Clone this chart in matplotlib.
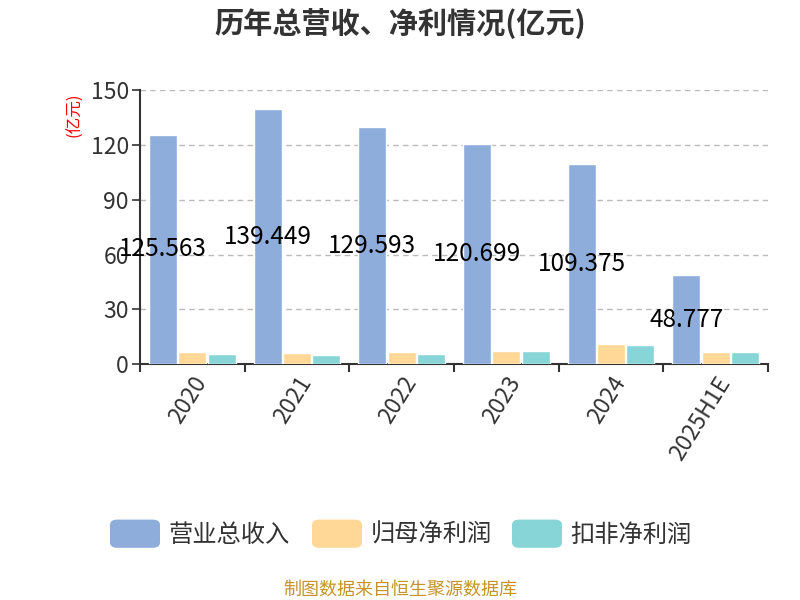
import matplotlib
matplotlib.use("Agg")
import matplotlib.pyplot as plt
import numpy as np
from matplotlib.patches import FancyBboxPatch

plt.rcParams['font.family'] = ['Noto Sans CJK SC', 'DejaVu Sans']

# 数据
years = ['2020', '2021', '2022', '2023', '2024', '2025H1E']
revenue = [125.563, 139.449, 129.593, 120.699, 109.375, 48.777]
net_profit = [6.7, 5.9, 6.5, 7.0, 10.8, 6.8]
deducted_profit = [5.4, 5.2, 5.7, 7.0, 10.7, 6.5]
series_names = ['营业总收入', '归母净利润', '扣非净利润']
colors = ['#8EADDB', '#FFD897', '#88D5D8']
yticks = [0, 30, 60, 90, 120, 150]

fig = plt.figure(figsize=(8, 6), dpi=100)
ax = fig.add_axes([0.175, 0.393, 0.785, 0.457])

x = np.arange(len(years))
w = 0.27
for i, vals in enumerate([revenue, net_profit, deducted_profit]):
    ax.bar(x + (i - 1) * (w + 0.01), vals, width=w, color=colors[i],
           edgecolor='white', linewidth=1, zorder=3)

# 数值标签（营业总收入柱中部）
for xi, v in zip(x, revenue):
    ax.text(xi - (w + 0.01), v / 2, f'{v:.3f}', ha='center', va='center',
            fontsize=17.5, color='black', zorder=5)

ax.set_xlim(-0.5, len(years) - 0.5)
ax.set_ylim(0, 150)
ax.set_yticks(yticks)
ax.set_yticklabels([str(t) for t in yticks], fontsize=16.5, color='#333333')
ax.yaxis.grid(True, linestyle=(0, (4, 3)), color='#bbbbbb', linewidth=1, zorder=0)

ax.set_xticks(np.arange(len(years) + 1) - 0.5, minor=False)
ax.set_xticklabels([''] * (len(years) + 1))
ax.set_xticks(x, minor=True)
ax.set_xticklabels(years, minor=True, rotation=58, ha='right',
                   rotation_mode='anchor', fontsize=16.5, color='#333333')
ax.tick_params(axis='x', which='minor', length=0, pad=6)
ax.tick_params(axis='x', which='major', length=6, width=1.5, color='#333333', direction='out')
ax.tick_params(axis='y', length=6, width=1.2, color='#333333', pad=2)

for s in ['top', 'right']:
    ax.spines[s].set_visible(False)
ax.spines['left'].set_color('#333333')
ax.spines['left'].set_linewidth(1.5)
ax.spines['bottom'].set_color('#333333')
ax.spines['bottom'].set_linewidth(1.5)

fig.text(0.094, 0.808, '(亿元)', rotation=90, color='red', fontsize=12,
         ha='center', va='center')

fig.text(0.5, 0.962, '历年总营收、净利情况(亿元)', ha='center', va='center',
         fontsize=21, fontweight='bold', color='#333333')

# 图例
legend_x = [0.1375, 0.39, 0.64]
for lx, name, c in zip(legend_x, series_names, colors):
    fig.patches.append(FancyBboxPatch((lx, 0.087), 0.0625, 0.047,
                                      boxstyle='round,pad=0,rounding_size=0.009',
                                      transform=fig.transFigure, facecolor=c,
                                      edgecolor='none'))
    fig.text(lx + 0.073, 0.109, name, fontsize=17.5, color='#333333',
             ha='left', va='center')

fig.text(0.5, 0.017, '制图数据来自恒生聚源数据库', ha='center', va='center',
         fontsize=13, color='#C8922A')

fig.savefig('out.png', dpi=100)
